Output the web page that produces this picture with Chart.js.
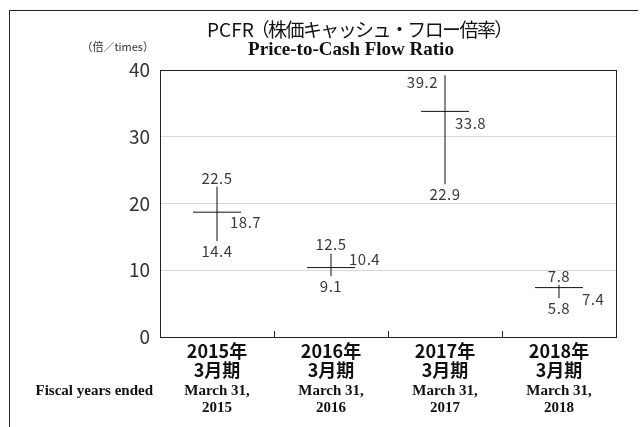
<!DOCTYPE html>
<html>
<head>
<meta charset="utf-8">
<script src="https://cdn.jsdelivr.net/npm/chart.js@4.4.1/dist/chart.umd.min.js"></script>
<style>
    html, body { margin: 0; padding: 0; background: #fff; }
    #wrap { position: relative; width: 641px; height: 427px; overflow: hidden; }
    #frame { position: absolute; left: 9px; top: 10px; width: 628px; height: 440px;
             border-top: 1px solid #222; border-left: 1px solid #222; }
    canvas { position: absolute; left: 0; top: 0; }
</style>
</head>
<body>
<div id="wrap">
    <div id="frame"></div>
    <canvas id="chart" width="641" height="427"></canvas>
</div>
<script>
// ---- Data ----
const categories = [['2015年', '3月期'], ['2016年', '3月期'], ['2017年', '3月期'], ['2018年', '3月期']];
const categoriesEn = [['March 31,', '2015'], ['March 31,', '2016'], ['March 31,', '2017'], ['March 31,', '2018']];
const highValues = [22.5, 12.5, 39.2, 7.8];
const lowValues = [14.4, 9.1, 22.9, 5.8];
const avgValues = [18.7, 10.4, 33.8, 7.4];
const yTicks = [0, 10, 20, 30, 40];

// ---- Label placement (style only) ----
const highLabelSide = ['top', 'top', 'left', 'top'];
const avgLabelOffset = [[13, 10], [18, -8], [10, 12], [23, 12]];

const JP = '"Noto Sans CJK JP", "Noto Sans", sans-serif';
const SERIF = '"Liberation Serif", "DejaVu Serif", serif';

// ---- Value labels, titles, plot box ----
const decorPlugin = {
    id: 'decor',
    afterDatasetsDraw(chart) {
        const { ctx, chartArea: a, scales: { x, y } } = chart;
        ctx.save();

        // plot box
        ctx.strokeStyle = '#222';
        ctx.lineWidth = 1;
        ctx.strokeRect(Math.round(a.left) + 0.5, Math.round(a.top) + 0.5,
            Math.round(a.right - a.left), Math.round(a.bottom - a.top));

        // small ticks between categories
        const step = x.getPixelForValue(1) - x.getPixelForValue(0);
        for (let i = 0; i < categories.length - 1; i++) {
            const px = Math.round(x.getPixelForValue(i) + step / 2) + 0.5;
            ctx.beginPath();
            ctx.moveTo(px, a.bottom);
            ctx.lineTo(px, a.bottom - 6);
            ctx.stroke();
        }

        // value labels
        ctx.font = '15px ' + JP;
        ctx.letterSpacing = '0.5px';
        ctx.fillStyle = '#3a3a3a';
        ctx.textBaseline = 'middle';
        for (let i = 0; i < categories.length; i++) {
            const cx = x.getPixelForValue(i);
            const top = y.getPixelForValue(highValues[i]);
            const bot = y.getPixelForValue(lowValues[i]);
            const mid = y.getPixelForValue(avgValues[i]);

            if (highLabelSide[i] === 'left') {
                ctx.textAlign = 'right';
                ctx.fillText(highValues[i].toFixed(1), cx - 7, top + 7);
            } else {
                ctx.textAlign = 'center';
                ctx.fillText(highValues[i].toFixed(1), cx, top - 9);
            }
            ctx.textAlign = 'center';
            ctx.fillText(lowValues[i].toFixed(1), cx, bot + 10);

            ctx.textAlign = 'left';
            ctx.fillText(avgValues[i].toFixed(1), cx + avgLabelOffset[i][0], mid + avgLabelOffset[i][1]);
        }

        // titles
        ctx.fillStyle = '#111';
        ctx.textAlign = 'left';
        ctx.font = '19px ' + JP;
        ctx.letterSpacing = '0px';
        ctx.fillText('PCFR', 207, 30);
        const w = ctx.measureText('PCFR').width;
        ctx.letterSpacing = '-1.6px';
        ctx.fillText('（株価キャッシュ・フロー倍率）', 207 + w - 3, 30);
        ctx.letterSpacing = '0px';
        ctx.textAlign = 'center';
        ctx.font = 'bold 19px ' + SERIF;
        ctx.fillText('Price-to-Cash Flow Ratio', 351, 50);

        ctx.font = '11px ' + JP;
        ctx.fillStyle = '#333';
        ctx.textAlign = 'right';
        ctx.fillText('（倍／times）', 154, 47);

        ctx.font = 'bold 15px ' + SERIF;
        ctx.fillStyle = '#111';
        ctx.fillText('Fiscal years ended', 153, 391);
        ctx.restore();
    }
};

// ---- Config ----
const config = {
    data: {
        labels: categories,
        datasets: [
            {
                type: 'bar',
                data: highValues.map((h, i) => [lowValues[i], h]),
                backgroundColor: '#111',
                barThickness: 1,
                inflateAmount: 0,
                borderWidth: 0
            },
            {
                type: 'line',
                data: avgValues,
                showLine: false,
                pointStyle: 'line',
                pointRadius: 24,
                borderColor: '#111',
                borderWidth: 1
            }
        ]
    },
    options: {
        responsive: false,
        animation: false,
        events: [],
        layout: { padding: { top: 70, right: 21, left: 0, bottom: 0 } },
        plugins: { legend: { display: false }, tooltip: { enabled: false } },
        scales: {
            x: {
                type: 'category',
                offset: true,
                grid: { display: false, drawTicks: false },
                border: { display: false },
                ticks: {
                    padding: 5,
                    color: '#111',
                    font: { family: JP, size: 18, weight: 'bold', lineHeight: '19px' },
                    maxRotation: 0
                },
                afterFit(s) { s.height = 42; }
            },
            x2: {
                type: 'category',
                position: 'bottom',
                labels: categoriesEn,
                offset: true,
                grid: { display: false, drawTicks: false },
                border: { display: false },
                ticks: {
                    padding: 4,
                    color: '#111',
                    font: { family: SERIF, size: 15, weight: 'bold', lineHeight: '16.5px' },
                    maxRotation: 0
                },
                afterFit(s) { s.height = 48; }
            },
            y: {
                min: 0,
                max: 40,
                afterBuildTicks(s) { s.ticks = yTicks.map(v => ({ value: v })); },
                grid: { color: '#d8d8d8', drawTicks: false },
                border: { display: false },
                ticks: {
                    padding: 10,
                    color: '#333',
                    font: { family: JP, size: 19 }
                },
                afterFit(s) { s.width = 160; }
            }
        }
    },
    plugins: [decorPlugin]
};

// ---- Create chart ----
new Chart(document.getElementById('chart').getContext('2d'), config);
</script>
</body>
</html>
